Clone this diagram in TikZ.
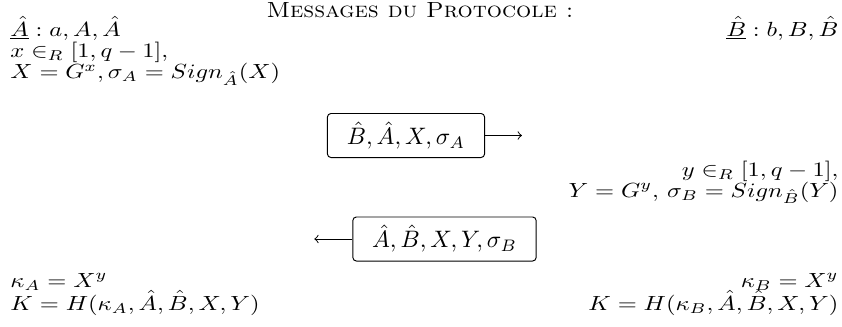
\documentclass[tikz,border=0pt]{standalone}
\usepackage{amsmath}
\usepackage{amssymb}
\usepackage{tikz}

\begin{document}
\begin{tikzpicture}[x=0.42pt,y=-0.42pt,
        txt/.style={inner sep=0pt,xscale=1.03,yscale=0.86},
        msg/.style={draw,rounded corners=1.5pt,inner sep=0pt,minimum width=66pt,minimum height=18.5pt}]
        \useasboundingbox (0,0) rectangle (842,326);
        \node[inner sep=0pt,yscale=0.92,anchor=base] (titre) at (420,17) {\textsc{Messages du Protocole :}};
        % partie de A
        \node[txt,anchor=base west] (a0) at (10,36) {$\underline{\hat{A}}:a,A,\hat{A}$};
        \node[txt,anchor=base west] (a1) at (10,57.5) {$x\in_R[1,q-1],$};
        \node[txt,anchor=base west] (a2) at (10,78.5) {$X=G^x,\sigma_A=Sign_{\hat{A}}(X)$};
        \node[txt,anchor=base west] (a3) at (10,287) {$\kappa_A=X^y$};
        \node[txt,anchor=base west] (a4) at (10,310) {$K=H(\kappa_A,\hat{A},\hat{B},X,Y)$};
        % partie de B
        \node[txt,anchor=base east] (b0) at (839,36) {$\underline{\hat{B}}:b,B,\hat{B}$};
        \node[txt,anchor=base east] (b1) at (839,176) {$y\in_R[1,q-1],$};
        \node[txt,anchor=base east] (b2) at (839,197) {$Y=G^y,\,\sigma_B=Sign_{\hat{B}}(Y)$};
        \node[txt,anchor=base east] (b3) at (839,287) {$\kappa_B=X^y$};
        \node[txt,anchor=base east] (b4) at (839,310) {$K=H(\kappa_B,\hat{A},\hat{B},X,Y)$};
        % messages
        \node[msg] (m1) at (406,135.5) {$\hat{B},\hat{A},X,\sigma_A$};
        \node[msg,minimum width=77pt] (m2) at (444.5,239) {$\hat{A},\hat{B},X,Y,\sigma_B$};
        \coordinate (f1) at ([xshift=15.5pt]m1.east);
        \coordinate (f2) at ([xshift=-16pt]m2.west);
        \draw[->] (m1.east) -- (f1);
        \draw[->] (m2.west) -- (f2);
    \end{tikzpicture}
\end{document}
